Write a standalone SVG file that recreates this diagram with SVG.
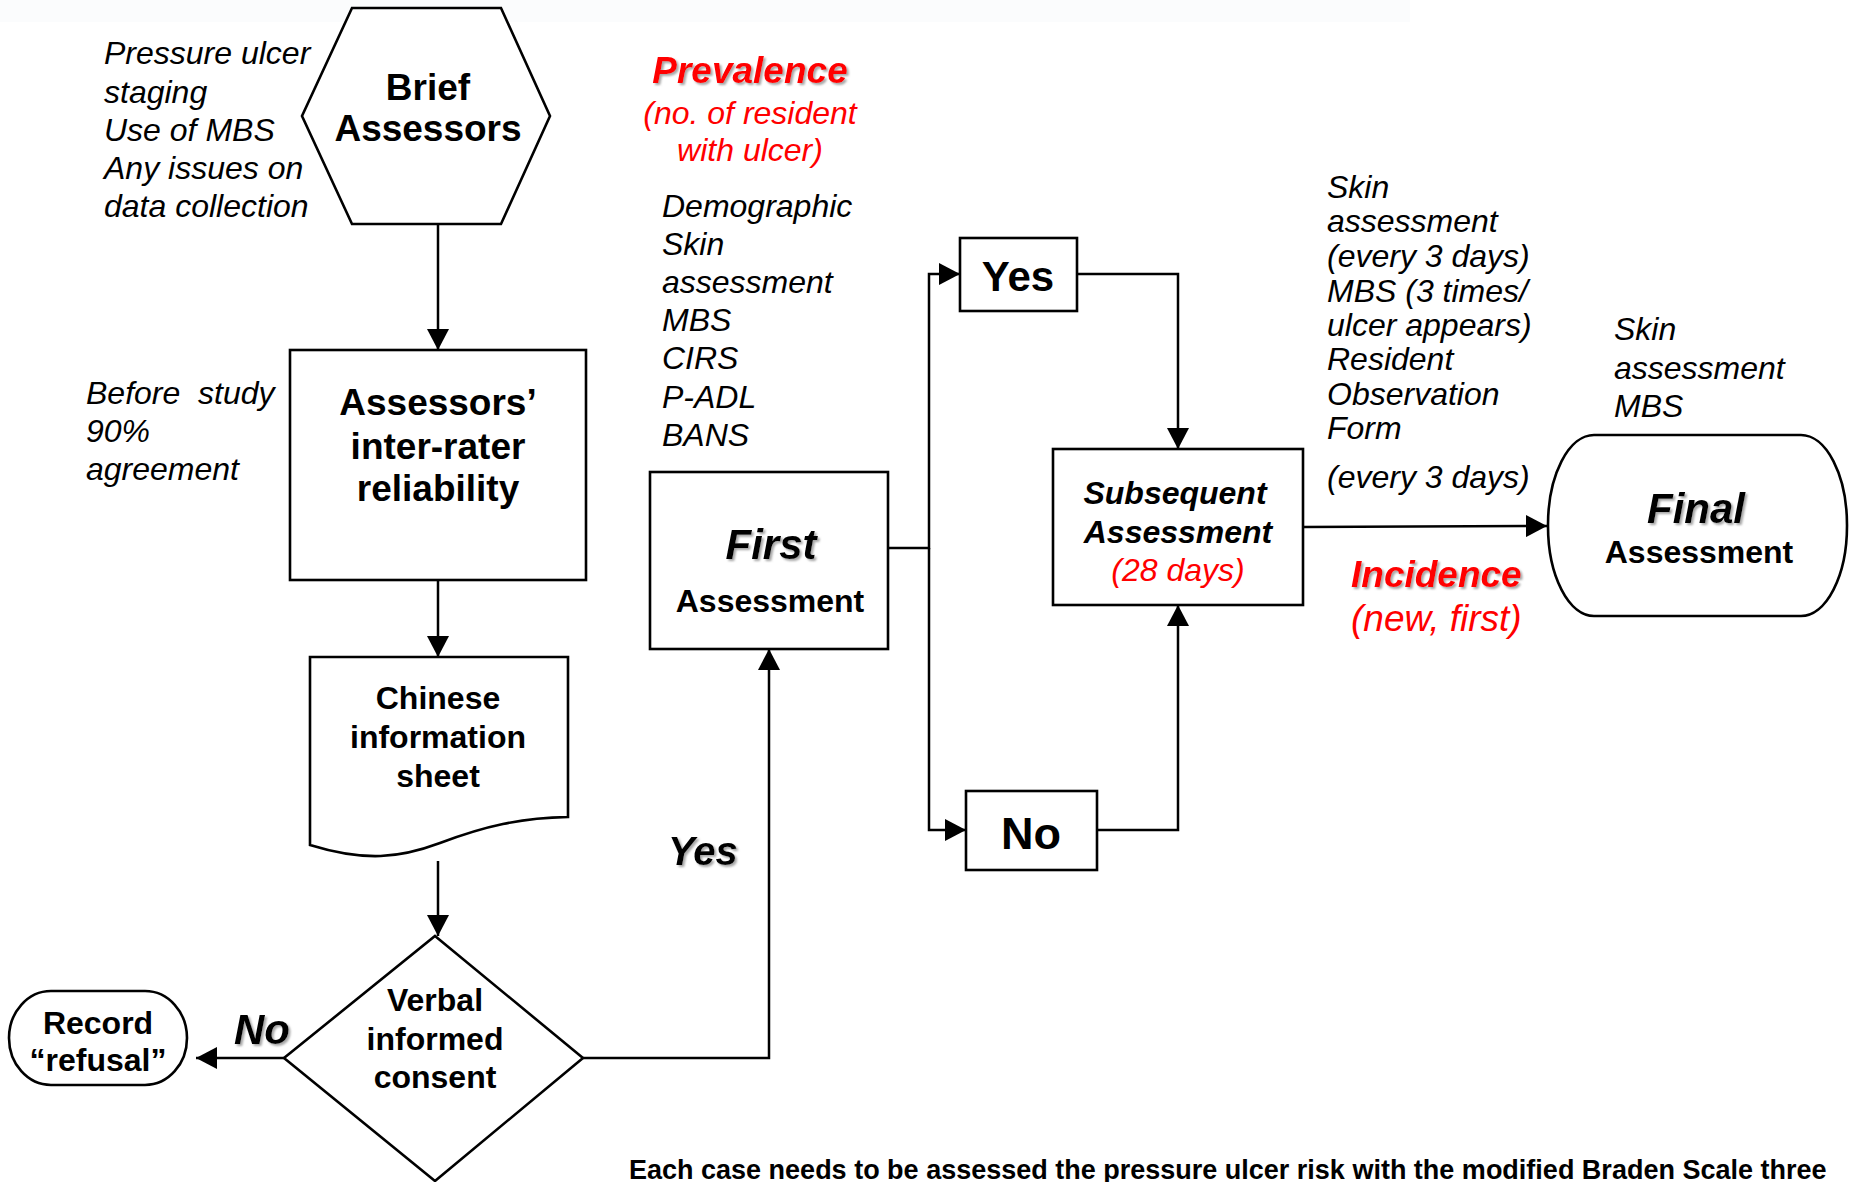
<svg xmlns="http://www.w3.org/2000/svg" width="1850" height="1182" viewBox="0 0 1850 1182">
<style>
  .shape { fill: #ffffff; stroke: #000000; stroke-width: 2.6; }
  .conn { fill: none; stroke: #000000; stroke-width: 2.5; }
  .t { font-family: "Liberation Sans", Arial, sans-serif; fill: #000000; }
  .b { font-weight: bold; }
  .i { font-style: italic; }
  .mid { text-anchor: middle; }
  .red { fill: #ff0000; }
  .s32 { font-size: 32px; }
  .s37 { font-size: 37px; }
  .s42 { font-size: 42px; }
  .sh { filter: url(#shadow); }
</style>
<defs>
  <marker id="arrow" markerUnits="userSpaceOnUse" markerWidth="21" markerHeight="22" viewBox="0 0 21 22" refX="21" refY="11" orient="auto">
    <path d="M0,0 L21,11 L0,22 z" fill="#000000"/>
  </marker>
  <filter id="shadow" x="-10%" y="-20%" width="130%" height="150%">
    <feDropShadow dx="2" dy="2" stdDeviation="0.8" flood-color="#808080" flood-opacity="0.7"/>
  </filter>
</defs>
<rect x="0" y="0" width="1850" height="1182" fill="#ffffff"/>
<rect x="0" y="0" width="1410" height="22" fill="#fbfcfd"/>

<g id="connectors">
  <path class="conn" d="M438,224 V350" marker-end="url(#arrow)"/>
  <path class="conn" d="M438,580 V657" marker-end="url(#arrow)"/>
  <path class="conn" d="M438,861 V936" marker-end="url(#arrow)"/>
  <path class="conn" d="M284,1058 H196" marker-end="url(#arrow)"/>
  <path class="conn" d="M583,1058 H769 V649" marker-end="url(#arrow)"/>
  <path class="conn" d="M888,548 H929 V274 H960" marker-end="url(#arrow)"/>
  <path class="conn" d="M929,548 V830 H966" marker-end="url(#arrow)"/>
  <path class="conn" d="M1077,274 H1178 V449" marker-end="url(#arrow)"/>
  <path class="conn" d="M1097,830 H1178 V605" marker-end="url(#arrow)"/>
  <path class="conn" d="M1303,527 L1547,526" marker-end="url(#arrow)"/>
</g>

<g id="brief-assessors">
  <polygon class="shape" points="352,8 501,8 550,116 501,224 352,224 302,116"/>
  <text class="t b s37 mid" x="428" y="100">Brief</text>
  <text class="t b s37 mid" x="428" y="141">Assessors</text>
</g>

<g id="assessors-reliability">
  <rect class="shape" x="290" y="350" width="296" height="230"/>
  <text class="t b s37 mid" x="438" y="415">Assessors’</text>
  <text class="t b s37 mid" x="438" y="459">inter-rater</text>
  <text class="t b s37 mid" x="438" y="501">reliability</text>
</g>

<g id="chinese-information-sheet">
  <path class="shape" d="M310,657 H568 V817 C520,818 485,826 440,843 C400,858 365,862 310,845 Z"/>
  <text class="t b s32 mid" x="438" y="709">Chinese</text>
  <text class="t b s32 mid" x="438" y="748">information</text>
  <text class="t b s32 mid" x="438" y="787">sheet</text>
</g>

<g id="verbal-consent">
  <polygon class="shape" points="435,936 583,1058 435,1181 284,1058"/>
  <text class="t b s32 mid" x="435" y="1011">Verbal</text>
  <text class="t b s32 mid" x="435" y="1050">informed</text>
  <text class="t b s32 mid" x="435" y="1088">consent</text>
</g>

<g id="record-refusal">
  <rect class="shape" x="9" y="991" width="178" height="94" rx="42" ry="47"/>
  <text class="t b s32 mid" x="98" y="1034">Record</text>
  <text class="t b s32 mid" x="98" y="1071">“refusal”</text>
</g>

<g id="first-assessment">
  <rect class="shape" x="650" y="472" width="238" height="177"/>
  <text class="t b i s42 mid sh" x="771" y="559">First</text>
  <text class="t b s32 mid" x="770" y="612">Assessment</text>
</g>

<g id="yes-box">
  <rect class="shape" x="960" y="238" width="117" height="73"/>
  <text class="t b s42 mid" x="1018" y="291">Yes</text>
</g>

<g id="no-box">
  <rect class="shape" x="966" y="791" width="131" height="79"/>
  <text class="t b mid" style="font-size:45px" x="1031" y="849">No</text>
</g>

<g id="subsequent-assessment">
  <rect class="shape" x="1053" y="449" width="250" height="156"/>
  <text class="t b i s32 mid" x="1175" y="504">Subsequent</text>
  <text class="t b i s32 mid" x="1178" y="543">Assessment</text>
  <text class="t i s32 mid red" x="1178" y="581">(28 days)</text>
</g>

<g id="final-assessment">
  <rect class="shape" x="1548" y="435" width="299" height="181" rx="46" ry="90"/>
  <text class="t b i s42 mid sh" x="1696" y="523">Final</text>
  <text class="t b s32 mid" x="1699" y="563">Assessment</text>
</g>

<g id="labels">
  <text class="t b i s42 sh" x="234" y="1044">No</text>
  <text class="t b i sh" style="font-size:40px" x="668" y="865">Yes</text>

  <text class="t b i s37 mid red sh" x="750" y="83">Prevalence</text>
  <text class="t i s32 mid red" x="750" y="124">(no. of resident</text>
  <text class="t i s32 mid red" x="750" y="161">with ulcer)</text>

  <text class="t i s32" x="662" y="217">Demographic</text>
  <text class="t i s32" x="662" y="255">Skin</text>
  <text class="t i s32" x="662" y="293">assessment</text>
  <text class="t i s32" x="662" y="331">MBS</text>
  <text class="t i s32" x="662" y="369">CIRS</text>
  <text class="t i s32" x="662" y="408">P-ADL</text>
  <text class="t i s32" x="662" y="446">BANS</text>

  <text class="t i s32" x="104" y="64">Pressure ulcer</text>
  <text class="t i s32" x="104" y="103">staging</text>
  <text class="t i s32" x="104" y="141">Use of MBS</text>
  <text class="t i s32" x="104" y="179">Any issues on</text>
  <text class="t i s32" x="104" y="217">data collection</text>

  <text class="t i s32" x="86" y="404">Before<tspan x="198">study</tspan></text>
  <text class="t i s32" x="86" y="442">90%</text>
  <text class="t i s32" x="86" y="480">agreement</text>

  <text class="t i s32" x="1327" y="198">Skin</text>
  <text class="t i s32" x="1327" y="232">assessment</text>
  <text class="t i s32" x="1327" y="267">(every 3 days)</text>
  <text class="t i s32" x="1327" y="302">MBS (3 times/</text>
  <text class="t i s32" x="1327" y="336">ulcer appears)</text>
  <text class="t i s32" x="1327" y="370">Resident</text>
  <text class="t i s32" x="1327" y="405">Observation</text>
  <text class="t i s32" x="1327" y="439">Form</text>
  <text class="t i s32" x="1327" y="488">(every 3 days)</text>

  <text class="t i s32" x="1614" y="340">Skin</text>
  <text class="t i s32" x="1614" y="379">assessment</text>
  <text class="t i s32" x="1614" y="417">MBS</text>

  <text class="t b i s37 red sh" x="1351" y="587">Incidence</text>
  <text class="t i red" style="font-size:37px" x="1351" y="631">(new, first)</text>

  <text class="t b" style="font-size:27px" x="629" y="1179">Each case needs to be assessed the pressure ulcer risk with the modified Braden Scale three</text>
</g>
</svg>
